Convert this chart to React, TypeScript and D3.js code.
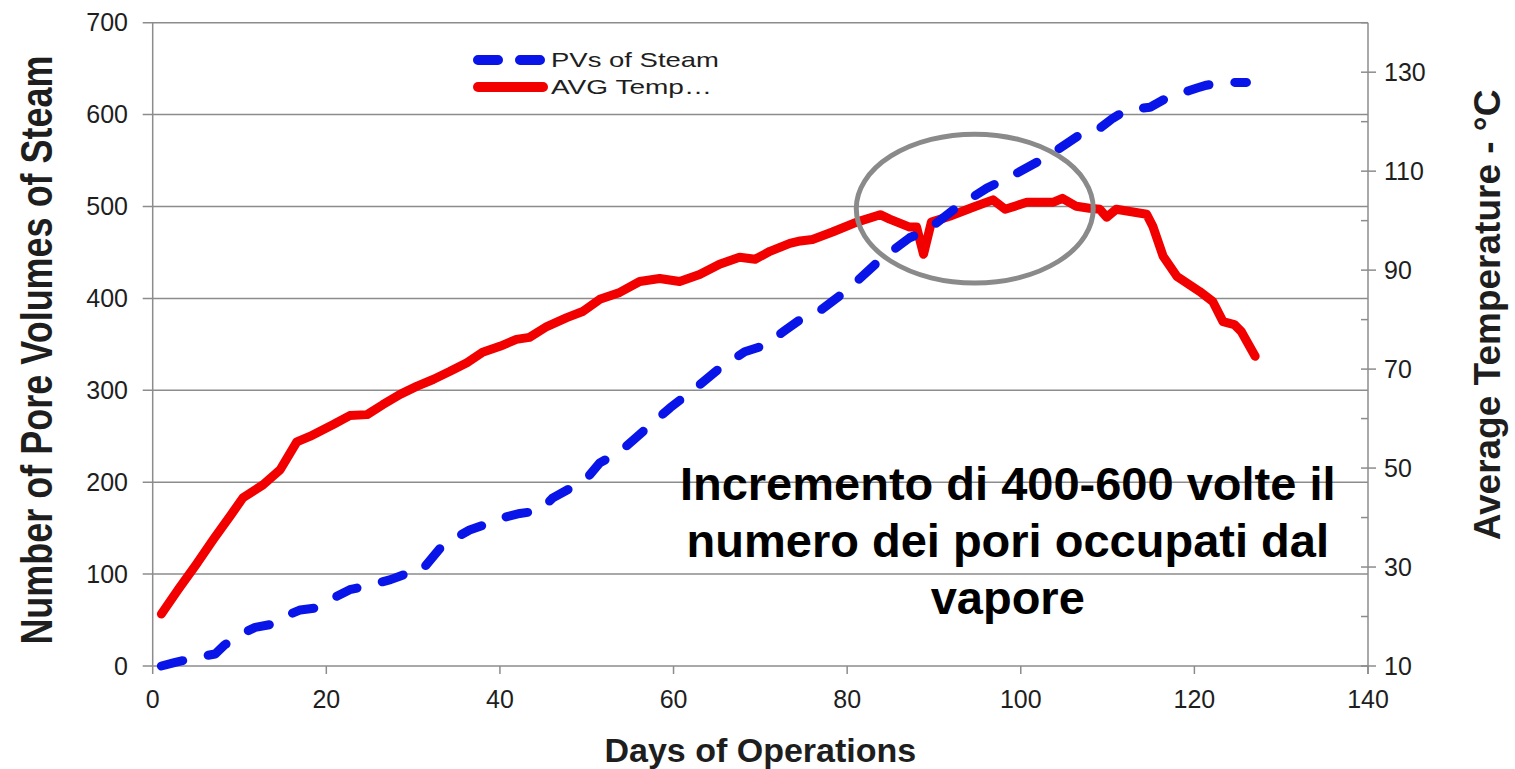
import React from "react";
import * as d3 from "d3";

const steamDays = [1, 2.6, 5.4, 7.2, 8.3, 10, 11.8, 13.5, 15.2, 17, 18.7, 20.4, 22.7, 25, 27.4, 29.1, 30.8, 33.1, 34.8, 36.5, 38.9, 40.6, 42.3, 44.6, 46.1, 48.4, 50, 51.5, 53.8, 56.7, 59.6, 62.5, 65.3, 68.2, 70.5, 72.8, 74.6, 76.5, 80, 83.8, 87.2, 89.2, 92.6, 96.1, 99.5, 103, 107.1, 108.8, 110.6, 112.2, 114.9, 116.8, 118.7, 120.3, 121.4, 123.3, 126];
const steamPV = [0, 4, 10, 13, 23, 34, 42, 45, 54, 61, 63, 72, 83, 88, 94, 100, 102, 128, 139, 148, 156, 162, 166, 169, 183, 195, 204, 221, 233, 257, 281, 302, 324, 342, 349, 365, 377, 384, 409, 442, 466, 474, 499, 520, 536, 554, 580, 583, 596, 605, 608, 618, 624, 629, 632, 635, 635];

const tempDays = [1, 3, 5, 7, 9, 10.4, 12.7, 14.7, 16.6, 18.1, 20.8, 22.7, 24.7, 26.5, 28.5, 30.4, 32.3, 34.2, 36.2, 38, 40, 41.9, 43.4, 45.4, 47.7, 49.6, 51.5, 53.8, 56.1, 58.4, 60.7, 63, 65.3, 67.6, 69.4, 71.1, 73.4, 74.6, 76, 78.3, 81.1, 83.8, 84.9, 87.2, 88, 88.8, 89.7, 91.8, 94.5, 96.8, 98.2, 100.7, 103.7, 104.8, 106.4, 107.9, 109.1, 109.9, 111, 114.5, 115.2, 116.4, 118, 120.6, 122.1, 123.3, 124.6, 125.4, 127];
const tempC = [20.5, 25.6, 30.5, 35.6, 40.5, 44, 46.6, 49.7, 55.3, 56.4, 58.8, 60.6, 60.8, 62.8, 64.9, 66.5, 67.9, 69.5, 71.3, 73.4, 74.6, 76, 76.4, 78.6, 80.4, 81.7, 84.1, 85.5, 87.7, 88.3, 87.7, 89.1, 91.2, 92.6, 92.2, 93.8, 95.4, 95.9, 96.2, 97.7, 99.7, 101.2, 100.3, 98.7, 98.7, 93.2, 99.7, 100.9, 102.7, 104.2, 102.3, 103.7, 103.7, 104.5, 102.9, 102.5, 102.3, 100.7, 102.3, 101.3, 98.9, 92.8, 88.7, 85.7, 83.7, 79.6, 79, 77.6, 72.6];

const xTicks = [0, 20, 40, 60, 80, 100, 120, 140];
const leftTicks = [0, 100, 200, 300, 400, 500, 600, 700];
const rightMajor = [10, 30, 50, 70, 90, 110, 130];
const rightMinor = [20, 40, 60, 80, 100, 120, 140];

const legendLabels = ["PVs of Steam", "AVG Temp\u2026"];
const annotationLines = ["Incremento di 400-600 volte il", "numero dei pori occupati dal", "vapore"];
const annotationAnchor = { day: 98.5, pv: 180.6 };
const ellipseData = { day: 94.7, pv: 497.7, rDays: 13.65, rPV: 81 };

const W = 1515;
const H = 769;
const L = 152.7;
const R = 1368;
const T = 22.7;
const B = 666;

export default function App() {
  const x = d3.scaleLinear().domain([0, 140]).range([L, R]);
  const yL = d3.scaleLinear().domain([0, 700]).range([B, T]);
  const yR = d3.scaleLinear().domain([10, 140]).range([B, T]);

  const steam = steamDays.map((d, i) => [d, steamPV[i]] as [number, number]);
  const temp = tempDays.map((d, i) => [d, tempC[i]] as [number, number]);

  const steamLine = d3.line<[number, number]>().x((d) => x(d[0])).y((d) => yL(d[1]));
  const tempLine = d3.line<[number, number]>().x((d) => x(d[0])).y((d) => yR(d[1]));

  const blue = "#0814e8";
  const red = "#f20000";
  const grid = "#8c8c8c";
  const txt = "#1e1e1e";
  const font = "Arial, 'Liberation Sans', sans-serif";

  const ax = x(annotationAnchor.day);
  const ay = yL(annotationAnchor.pv);

  return (
    <svg width={W} height={H} style={{ position: "absolute", left: 0, top: 0, background: "#fff" }} fontFamily={font}>
      <rect x={0} y={0} width={W} height={H} fill="#fff" />
      {leftTicks.map((t) => (
        <line key={"g" + t} x1={L - 10} x2={R} y1={yL(t)} y2={yL(t)} stroke={grid} strokeWidth={1.5} />
      ))}
      <line x1={L} x2={L} y1={T} y2={B} stroke={grid} strokeWidth={1.5} />
      <line x1={R} x2={R} y1={T} y2={B + 8} stroke={grid} strokeWidth={1.5} />
      {xTicks.map((t) => (
        <line key={"xt" + t} x1={x(t)} x2={x(t)} y1={B} y2={B + 8} stroke={grid} strokeWidth={1.5} />
      ))}
      {rightMajor.map((t) => (
        <line key={"rM" + t} x1={R - 7} x2={R + 8} y1={yR(t)} y2={yR(t)} stroke={grid} strokeWidth={1.5} />
      ))}
      {rightMinor.map((t) => (
        <line key={"rm" + t} x1={R - 7} x2={R} y1={yR(t)} y2={yR(t)} stroke={grid} strokeWidth={1.5} />
      ))}

      {xTicks.map((t) => (
        <text key={"xl" + t} x={x(t)} y={708} textAnchor="middle" fontSize={25} fill={txt}>{t}</text>
      ))}
      {leftTicks.map((t) => (
        <text key={"yl" + t} x={128} y={yL(t)} dy="0.35em" textAnchor="end" fontSize={25} fill={txt}>{t}</text>
      ))}
      {rightMajor.map((t) => (
        <text key={"yr" + t} x={1384} y={yR(t)} dy="0.35em" textAnchor="start" fontSize={25} fill={txt}>{t}</text>
      ))}

      <text transform={`translate(52,350) scale(1.25,1) rotate(-90)`} textAnchor="middle" fontSize={36} fontWeight="bold" fill={txt}>Number of Pore Volumes of Steam</text>
      <text transform={`translate(1500,315) rotate(-90)`} textAnchor="middle" fontSize={37} fontWeight="bold" fill={txt}>Average Temperature - °C</text>
      <text x={(L + R) / 2} y={762} textAnchor="middle" fontSize={34} fontWeight="bold" fill={txt}>Days of Operations</text>

      <path d={tempLine(temp) || ""} fill="none" stroke={red} strokeWidth={9} strokeLinejoin="round" strokeLinecap="round" />
      <path d={steamLine(steam) || ""} fill="none" stroke={blue} strokeWidth={9} strokeDasharray="22,26" strokeLinejoin="round" strokeLinecap="round" />

      <ellipse cx={x(ellipseData.day)} cy={yL(ellipseData.pv)} rx={x(ellipseData.rDays) - x(0)} ry={yL(0) - yL(ellipseData.rPV)} fill="none" stroke="#8a8a8a" strokeWidth={5} />

      <line x1={478} x2={541} y1={60} y2={60} stroke={blue} strokeWidth={10} strokeDasharray="20,22" strokeLinecap="round" />
      <line x1={478} x2={543} y1={87} y2={87} stroke={red} strokeWidth={10} strokeLinecap="round" />
      <text x={551} y={67} fontSize={21} fill={txt} textLength={168} lengthAdjust="spacingAndGlyphs">{legendLabels[0]}</text>
      <text x={551} y={94} fontSize={21} fill={txt} textLength={161} lengthAdjust="spacingAndGlyphs">{legendLabels[1]}</text>

      {annotationLines.map((s, i) => (
        <text key={"a" + i} x={ax} y={ay + i * 57} textAnchor="middle" fontSize={47} fontWeight="bold" fill="#000">{s}</text>
      ))}
    </svg>
  );
}
